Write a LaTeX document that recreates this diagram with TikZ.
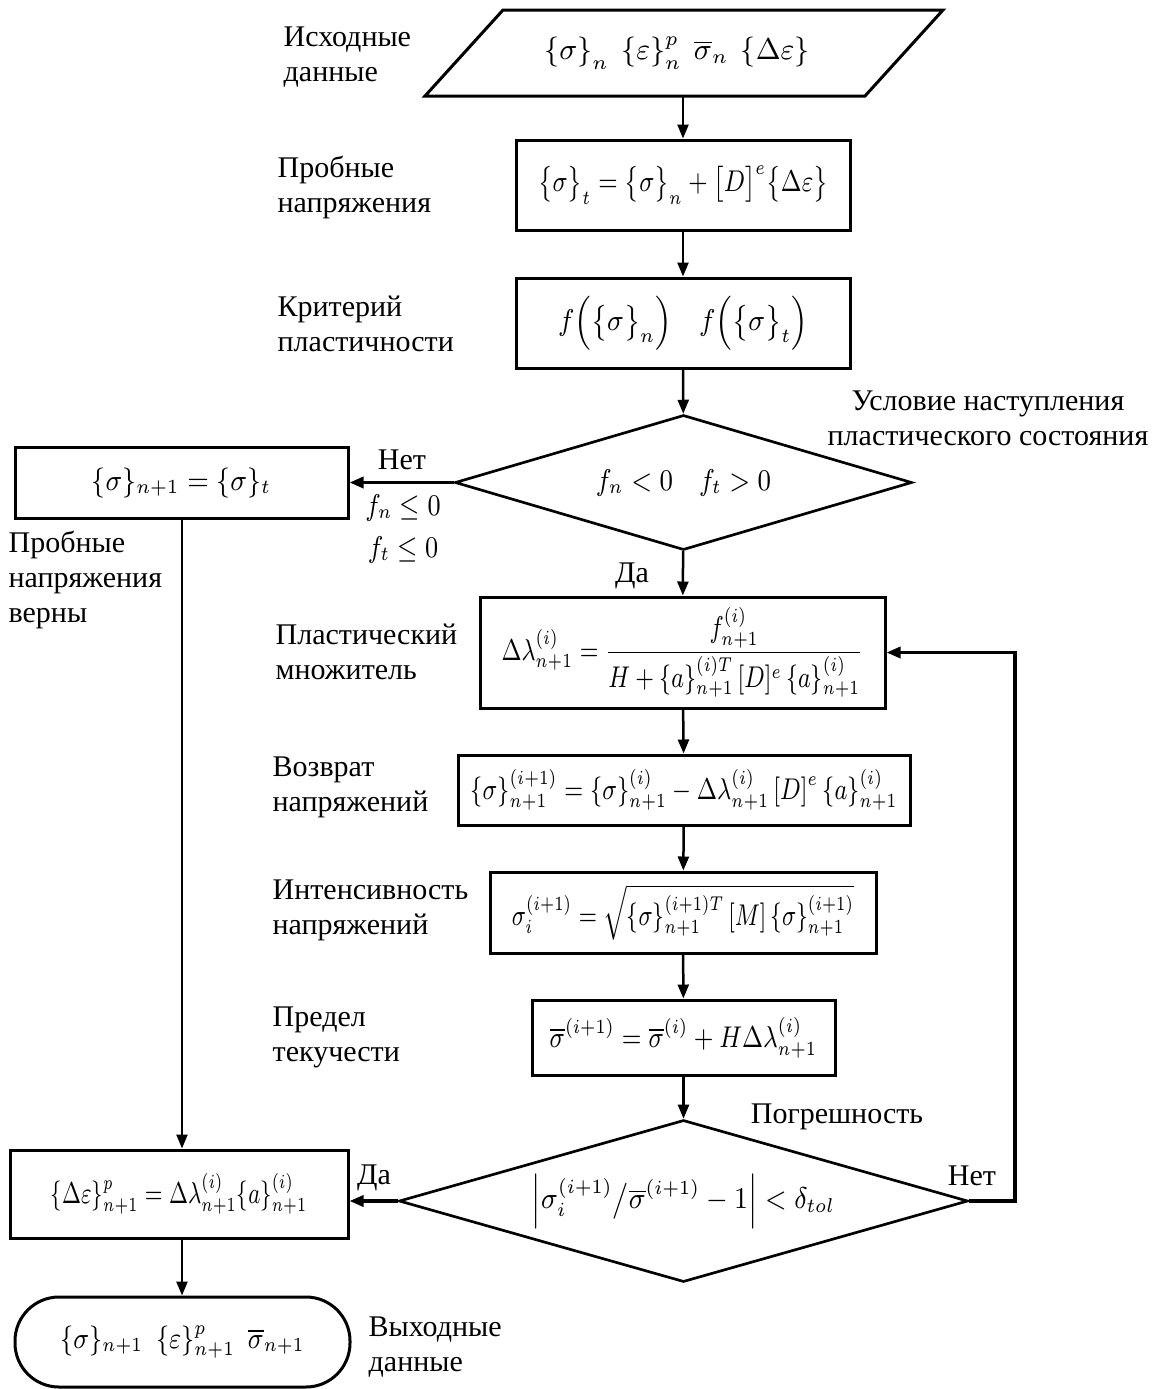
\documentclass[tikz,border=0pt]{standalone}
\usepackage{amsmath}
\usepackage{graphicx}
\usepackage{fontspec}
\setmainfont{Liberation Serif}
\usetikzlibrary{shapes.geometric,arrows.meta}
\newcommand\pxu{0.3pt}
\newcommand\fml[2][1]{\scalebox{#1}[1]{$\displaystyle #2$}}
\begin{document}
\begin{tikzpicture}[x=0.3pt,y=-0.3pt,
  every node/.style={font=\fontsize{9}{10.5}\selectfont},
  box/.style={draw, line width=0.9pt, rectangle, inner sep=0pt},
  dia/.style={draw, line width=0.8pt, diamond, inner sep=0pt},
  lbl/.style={align=left, anchor=west, inner sep=0pt},
  ctr/.style={align=center, inner sep=0pt},
  arr/.style={line width=0.75pt, -{Triangle[length=4.2pt,width=3.3pt]}},
  harr/.style={line width=1pt, -{Triangle[length=4.2pt,width=3.3pt]}}]
\useasboundingbox (0,0) rectangle (1158,1389);

% main column
\draw[line width=0.9pt, line join=miter] (503,10) -- (943,10) -- (865,96) -- (425,96) -- cycle;
\node[inner sep=0pt] (in) at (677,53)
  {\fml[0.97]{\left\{\sigma\right\}_n\ \left\{\varepsilon\right\}_n^p\ \overline{\sigma}_n\ \left\{\Delta\varepsilon\right\}}};
\coordinate (inb) at (683,96);
\node[box, minimum width=334*\pxu, minimum height=90*\pxu] (b2) at (683,185)
  {\fml[0.81]{\bigl\{\sigma\bigr\}_t=\bigl\{\sigma\bigr\}_n+\bigl[D\bigr]^e\bigl\{\Delta\varepsilon\bigr\}}};
\node[box, minimum width=334*\pxu, minimum height=90*\pxu] (b3) at (683,323)
  {\fml[0.9]{f\Bigl(\bigl\{\sigma\bigr\}_n\Bigr)\quad f\Bigl(\bigl\{\sigma\bigr\}_t\Bigr)}};
\node[dia, aspect=3.385, minimum width=457*\pxu, minimum height=135*\pxu] (d1) at (683.5,482.5)
  {\fml[0.87]{f_n<0\quad f_t>0}};
\node[box, minimum width=405*\pxu, minimum height=111*\pxu] (b4) at (682.5,652.5)
  {\fml[0.78]{\Delta\lambda_{n+1}^{(i)}=\frac{f_{n+1}^{(i)}}{H+\{a\}_{n+1}^{(i)T}\,[D]^e\,\{a\}_{n+1}^{(i)}}}};
\node[box, minimum width=452*\pxu, minimum height=70*\pxu] (b5) at (684,790)
  {\fml[0.79]{\{\sigma\}_{n+1}^{(i+1)}=\{\sigma\}_{n+1}^{(i)}-\Delta\lambda_{n+1}^{(i)}\,[D]^e\,\{a\}_{n+1}^{(i)}}};
\node[box, minimum width=386*\pxu, minimum height=81*\pxu] (b6) at (683,912.5)
  {\fml[0.76]{\sigma_i^{(i+1)}=\sqrt{\{\sigma\}_{n+1}^{(i+1)T}\,[M]\,\{\sigma\}_{n+1}^{(i+1)}}}};
\node[box, minimum width=303*\pxu, minimum height=75*\pxu] (b7) at (683.5,1037.5)
  {\fml[0.82]{\overline{\sigma}^{(i+1)}=\overline{\sigma}^{(i)}+H\Delta\lambda_{n+1}^{(i)}}};
\node[dia, aspect=3.51, minimum width=569*\pxu, minimum height=162*\pxu] (d2) at (683.5,1201)
  {\fml[0.9]{\left|\sigma_i^{(i+1)}\big/\overline{\sigma}^{(i+1)}-1\right|<\delta_{tol}}};

% left column
\node[box, minimum width=333*\pxu, minimum height=71*\pxu] (lb1) at (181.5,482.5)
  {\fml[0.9]{\{\sigma\}_{n+1}=\{\sigma\}_t}};
\node[box, minimum width=338*\pxu, minimum height=88*\pxu] (lb2) at (179,1194)
  {\fml[0.74]{\{\Delta\varepsilon\}_{n+1}^p=\Delta\lambda_{n+1}^{(i)}\{a\}_{n+1}^{(i)}}};
\node[draw, line width=0.9pt, rectangle, rounded corners=44*\pxu, inner sep=0pt,
  minimum width=335*\pxu, minimum height=90*\pxu] (term) at (182.5,1342)
  {\fml[0.85]{\{\sigma\}_{n+1}\ \ \{\varepsilon\}_{n+1}^p\ \ \overline{\sigma}_{n+1}}};

% labels
\node[lbl] (l1) at (283,57) {Исходные\\данные};
\node[lbl] (l2) at (277,187) {Пробные\\напряжения};
\node[lbl] (l3) at (277,324) {Критерий\\пластичности};
\node[ctr] (l4) at (988,418) {Условие наступления\\пластического состояния};
\node[ctr] (no1) at (402,460) {Нет};
\node[ctr] (c1) at (403,508) {\fml[0.85]{f_n\le 0}};
\node[ctr] (c2) at (403,550) {\fml[0.85]{f_t\le 0}};
\node[lbl] (l5) at (8,580) {Пробные\\напряжения\\верны};
\node[ctr] (yes1) at (632,576) {Да};
\node[lbl] (l6) at (275,652) {Пластический\\множитель};
\node[lbl] (l7) at (272,787) {Возврат\\напряжений};
\node[lbl] (l8) at (272,910) {Интенсивность\\напряжений};
\node[lbl] (l9) at (272,1037) {Предел\\текучести};
\node[ctr] (l10) at (837,1117) {Погрешность};
\node[ctr] (yes2) at (374,1178) {Да};
\node[ctr] (no2) at (972,1176) {Нет};
\node[lbl] (l11) at (368,1347) {Выходные\\данные};

% connectors
\draw[arr] (inb) -- (b2.north);
\draw[arr] (b2) -- (b3);
\draw[arr] (b3) -- (d1);
\draw[harr] (d1.west) -- (lb1.east);
\draw[arr] (d1) -- (b4);
\draw[arr] (b4) -- (b5);
\draw[arr] (b5) -- (b6);
\draw[arr] (b6) -- (b7);
\draw[arr] (b7) -- (d2);
\coordinate (loop) at (1015,1201);
\draw[harr] (d2.east) -- (loop) |- (b4.east);
\draw[harr] (d2.west) -- (d2.west -| lb2.east);
\draw[arr] (lb1.south -| 182,0) -- (lb2.north -| 182,0);
\draw[arr] (lb2.south -| 182,0) -- (term.north -| 182,0);
\end{tikzpicture}
\end{document}
